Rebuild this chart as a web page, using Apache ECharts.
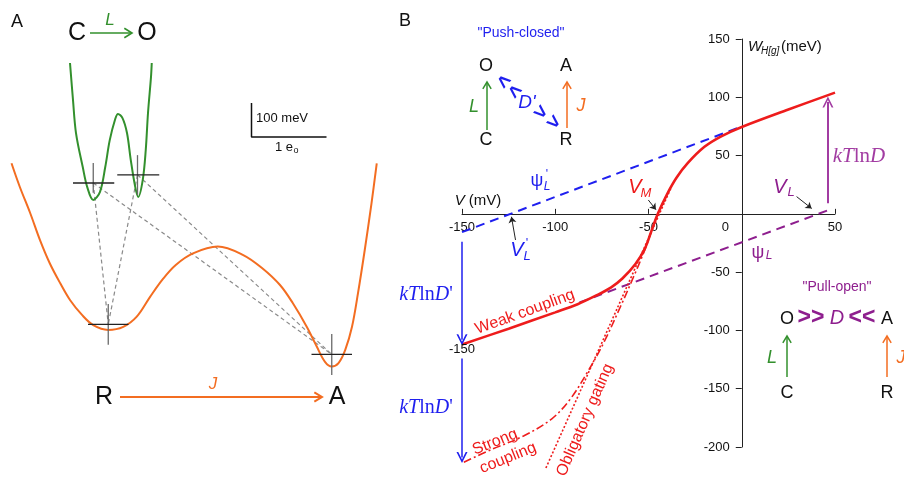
<!DOCTYPE html>
<html><head><meta charset="utf-8">
<script src="https://cdn.jsdelivr.net/npm/echarts@6/dist/echarts.min.js"></script>
<style>html,body{margin:0;padding:0;background:#fff}#c{width:904px;height:480px}</style>
</head><body><div id="c"></div>
<script>
// ---------- Panel B : axes ----------
const vTicks = [-150, -100, -50, 0, 50];                   // V (mV)
const wTicks = [-200, -150, -100, -50, 0, 50, 100, 150];   // W_H[g] (meV)

// ---------- Panel B : curves [V (mV), W (meV)] ----------
const weakCoupling = [[-150,-112],[-125,-98.5],[-100,-84.5],[-88,-77.5],[-78,-70],[-70,-63],[-64,-55.5],[-57,-43],[-52,-30],[-48.5,-15],[-45,0],[-40,17],[-35,31],[-29,43.5],[-20,57.5],[-11,66.5],[0,74.5],[25,89.5],[50,104]];
const strongCoupling = [[-149,-213],[-134,-202],[-117,-190.5],[-102,-176],[-92,-159],[-83,-136.5],[-74,-110.5],[-65,-79.5],[-58,-54],[-52,-31],[-45,0],[-40,17]];
const obligatoryGating = [[-105,-218],[-38,22]];
const psiLPrime = [[-150,-15.7],[0,75]];
const psiL = [[-87,-76],[47,3.5]];

// ---------- Panel B : arrows [from, to] ----------
const kTlnDArrow = [[[46.2,9],[46.2,96]]];
const kTlnDPrimeArrows = [[[-150,-24],[-150,-108]],[[-150,-124],[-150,-209]]];
const pointerArrows = [[[-50.1,11.9],[-46,3.6]],[[-121.3,-22.4],[-123.5,-2.5]],[[29.4,14.8],[37.5,4.6]]];

// ---------- Panel A : energy landscapes [charge (e0), energy (meV)] ----------
const greenWell = [[0.80,1103],[0.84,994],[0.88,897],[0.97,797],[1.03,738],[1.11,700],[1.20,724],[1.27,797],[1.33,876],[1.40,936],[1.44,953],[1.50,941],[1.56,897],[1.61,818],[1.67,738],[1.71,709],[1.77,759],[1.81,847],[1.84,956],[1.88,1062],[1.89,1103]];
const orangeWell = [[0.02,808],[0.13,739],[0.27,661],[0.40,582],[0.53,514],[0.67,455],[0.80,406],[0.96,362],[1.11,332],[1.31,318],[1.51,327],[1.69,357],[1.87,416],[2.04,468],[2.21,509],[2.44,543],[2.77,563],[3.11,538],[3.36,500],[3.60,450],[3.77,397],[3.96,326],[4.09,269],[4.20,224],[4.29,210],[4.38,220],[4.47,259],[4.56,327],[4.64,426],[4.73,553],[4.82,690],[4.89,808]];
const crossH = [[[0.84,750],[1.39,750]],[[1.43,774],[1.99,774]],[[1.04,334],[1.58,334]],[[4.02,246],[4.56,246]]];
const crossV = [[[1.11,809],[1.11,721]],[[1.70,832],[1.70,715]],[[1.31,394],[1.31,274]],[[4.29,306],[4.29,185]]];
const greenStates = [[1.11,750],[1.70,774]];
const orangeStates = [[1.31,334],[4.29,246]];
const scaleBar = [[3.22,985],[3.22,885],[4.22,885]]; // 100 meV, 1 e0

const GREEN='#33902d', ORANGE='#f36d21', RED='#ee1c1c', BLUE='#1f1fef', PURPLE='#8e1e8e', PURPLE2='#a23ca2';
const SANS='Liberation Sans', SERIF='Liberation Serif';
const ARROW_OPEN='path://M0,10 L5,0 L10,10 L8.4,10 L5,3.2 L1.6,10 Z';
const GB = {left:462, top:39, width:373, height:408};

function ln(data, grid, color, width, type, z, smooth){
  return {type:'line', xAxisIndex:grid, yAxisIndex:grid, data:data, symbol:'none', showSymbol:false,
    smooth: smooth||false, clip:false, silent:true, animation:false, z:z||2,
    lineStyle:{color:color, width:width, type:type||'solid', cap:'butt'}};
}
function arrows(list, grid, color, width, sym, size){
  return {type:'lines', coordinateSystem:'cartesian2d', xAxisIndex:grid, yAxisIndex:grid, polyline:false,
    data:list.map(a=>({coords:a})), symbol:['none', sym], symbolSize:[1, size], silent:true, animation:false, clip:false, z:5,
    lineStyle:{color:color, width:width, opacity:1, curveness:0}};
}
function T(x,y,text,size,color,o){
  o=o||{};
  return {type:'text', x:x, y:y, rotation:o.rot||0, silent:true, z:100,
    style:{text:text, fill:color||'#111', fontSize:size, fontFamily:o.family||SANS,
      fontStyle:o.italic?'italic':'normal', fontWeight:o.bold?'bold':'normal',
      align:o.align||'center', verticalAlign:o.va||'middle', rich:o.rich}};
}
function gArrow(x1,y1,x2,y2,color,w,h){
  const a=Math.atan2(y2-y1,x2-x1), s=0.55;
  const p1=[x2-h*Math.cos(a-s), y2-h*Math.sin(a-s)], p2=[x2-h*Math.cos(a+s), y2-h*Math.sin(a+s)];
  return [
    {type:'line', silent:true, z:100, shape:{x1:x1,y1:y1,x2:x2,y2:y2}, style:{stroke:color, lineWidth:w}},
    {type:'polyline', silent:true, z:100, shape:{points:[p1,[x2,y2],p2]}, style:{stroke:color, lineWidth:w, fill:null}}
  ];
}
function kt(color,size,prime){
  const base={fontFamily:SERIF, fontSize:size, fill:color, color:color};
  return {text:'{i|kT}{r|ln}{i|D}'+(prime?"{r|'}":''), rich:{i:Object.assign({fontStyle:'italic'},base), r:Object.assign({fontStyle:'normal'},base)}};
}

const series = [];
// Panel A
greenStates.forEach(g=>orangeStates.forEach(o=>series.push(ln([g,o],0,'#8a8a8a',1.2,[4,3],1))));
series.push(ln(orangeWell,0,ORANGE,2,'solid',2,0.35));
series.push(ln(greenWell,0,GREEN,2,'solid',2,0.35));
crossV.forEach(s=>series.push(ln(s,0,'#6a6a6a',1.3,'solid',3)));
crossH.forEach(s=>series.push(ln(s,0,'#222',1.3,'solid',3)));
series.push(ln(scaleBar,0,'#111',1.5,'solid',3));
// Panel B
series.push(ln(psiL,1,PURPLE,2,[9,6],2));
series.push(ln(psiLPrime,1,BLUE,2,[9,6],2));
series.push(ln(obligatoryGating,1,RED,1.6,[2,2],3));
series.push(ln(strongCoupling,1,RED,1.6,[8,3,2,3],3,0.35));
series.push(ln(weakCoupling,1,RED,2.6,'solid',4,0.35));
series.push(arrows(kTlnDArrow,1,PURPLE2,2,ARROW_OPEN,11));
series.push(arrows(kTlnDPrimeArrows,1,BLUE,1.5,ARROW_OPEN,11));
series.push(arrows(pointerArrows,1,'#222',1,'arrow',6));

const g = [];
// Panel A annotations
g.push(T(17,22,'A',18));
g.push(T(77,33,'C',25)); g.push(T(147,33,'O',25));
g.push(T(110,20,'L',17,GREEN,{italic:true}));
g.push(...gArrow(90,33,132,33,GREEN,1.6,9));
g.push(T(104,397,'R',25)); g.push(T(337,397,'A',25));
g.push(T(213,384,'J',17,ORANGE,{italic:true}));
g.push(...gArrow(120,397,322,397,ORANGE,2,9));
g.push(T(256,118,'100 meV',13,'#111',{align:'left'}));
g.push(T(284,147,'1 e',13)); g.push(T(296,151,'o',9));
// Panel B annotations
g.push(T(405,21,'B',18));
g.push(T(521,33,'"Push-closed"',14,BLUE));
g.push(T(486,66,'O',18)); g.push(T(566,66,'A',18)); g.push(T(486,140,'C',18)); g.push(T(566,140,'R',18));
g.push(T(474,107,'L',18,GREEN,{italic:true})); g.push(T(581,106,'J',18,ORANGE,{italic:true}));
g.push(...gArrow(487,130,487,82,GREEN,1.5,8)); g.push(...gArrow(567,128,567,82,ORANGE,1.5,8));
g.push(T(503,82,'<',21,BLUE,{bold:true,rot:-0.72})); g.push(T(514,92,'<',21,BLUE,{bold:true,rot:-0.72}));
g.push(T(527,103,"D'",19,BLUE,{italic:true}));
g.push(T(540,113,'>',21,BLUE,{bold:true,rot:-0.72})); g.push(T(553,123,'>',21,BLUE,{bold:true,rot:-0.72}));
(function(){const r={i:{fontStyle:'italic',fontSize:15,fontFamily:SANS,fill:'#111',color:'#111'},n:{fontSize:15,fontFamily:SANS,fill:'#111',color:'#111'}};
  const e=T(478,201,'',15,'#111',{rich:r}); e.style.text='{i|V}{n| (mV)}'; g.push(e);})();
g.push(T(748,47,'W',15,'#111',{italic:true,align:'left'}));
g.push(T(761,51,'H[g]',10,'#111',{italic:true,align:'left'}));
g.push(T(781,47,'(meV)',15,'#111',{align:'left'}));
g.push(T(537,181,'ψ',18,BLUE)); g.push(T(547,175,"'",12,BLUE)); g.push(T(547,187,'L',12,BLUE,{italic:true}));
g.push(T(635,187,'V',20,RED,{italic:true})); g.push(T(646,193,'M',13,RED,{italic:true}));
g.push(T(517,250,'V',20,BLUE,{italic:true})); g.push(T(527,243,"'",13,BLUE)); g.push(T(527,256,'L',13,BLUE,{italic:true}));
g.push(T(780,187,'V',20,PURPLE,{italic:true})); g.push(T(791,192,'L',13,PURPLE,{italic:true}));
g.push(T(758,253,'ψ',18,PURPLE)); g.push(T(769,256,'L',12,PURPLE,{italic:true}));
(function(){const k=kt(PURPLE2,21,false); const e=T(859,156,'',21,PURPLE2,{family:SERIF,rich:k.rich}); e.style.text=k.text; g.push(e);})();
[295,408].forEach(y=>{const k=kt(BLUE,20,true); const e=T(426,y,'',20,BLUE,{family:SERIF,rich:k.rich}); e.style.text=k.text; g.push(e);});
g.push(T(462,349,'-150',13));
g.push(T(525,312,'Weak coupling',16,RED,{rot:0.35}));
g.push(T(495,442,'Strong',16,RED,{rot:0.38}));
g.push(T(508,458,'coupling',16,RED,{rot:0.38}));
g.push(T(585,420,'Obligatory gating',16,RED,{rot:1.16}));
g.push(T(837,287,'"Pull-open"',14,PURPLE));
g.push(T(787,319,'O',18)); g.push(T(811,318,'>>',23,PURPLE,{bold:true}));
g.push(T(837,318,'D',20,PURPLE,{italic:true})); g.push(T(862,318,'<<',23,PURPLE,{bold:true}));
g.push(T(887,319,'A',18));
g.push(T(772,358,'L',18,GREEN,{italic:true})); g.push(T(901,358,'J',18,ORANGE,{italic:true}));
g.push(T(787,393,'C',18)); g.push(T(887,393,'R',18));
g.push(...gArrow(787,377,787,336,GREEN,1.5,8)); g.push(...gArrow(887,377,887,336,ORANGE,1.5,8));

// axes cross at the origin: shift each axis from the grid edge to the other's zero
const vMin=vTicks[0], vMax=vTicks[vTicks.length-1], wMin=wTicks[0], wMax=wTicks[wTicks.length-1];
const xOffset = -(0 - wMin)/(wMax - wMin)*GB.height;
const yOffset = -(0 - vMin)/(vMax - vMin)*GB.width;

const chart = echarts.init(document.getElementById('c'), null, {renderer:'canvas'});
chart.setOption({
  animation:false,
  backgroundColor:'#fff',
  grid:[
    {left:10, top:30, width:375, height:408},
    GB
  ],
  xAxis:[
    {gridIndex:0, type:'value', min:0, max:5, show:false},
    {gridIndex:1, type:'value', min:vMin, max:vMax, interval:50, position:'bottom', offset:xOffset,
      axisLine:{onZero:false, lineStyle:{color:'#222', width:1}},
      axisTick:{inside:true, length:5, lineStyle:{color:'#222'}},
      splitLine:{show:false},
      axisLabel:{color:'#111', fontSize:13, fontFamily:SANS, margin:7,
        formatter:v=> v===0 ? '{z|0}' : String(v),
        rich:{z:{fontSize:13, fontFamily:SANS, color:'#111', padding:[0,33,0,0]}}}}
  ],
  yAxis:[
    {gridIndex:0, type:'value', min:0, max:1200, show:false},
    {gridIndex:1, type:'value', min:wMin, max:wMax, interval:50, position:'left', offset:yOffset,
      axisLine:{onZero:false, lineStyle:{color:'#222', width:1}},
      axisTick:{length:6, lineStyle:{color:'#222'}},
      splitLine:{show:false},
      axisLabel:{color:'#111', fontSize:13, fontFamily:SANS, margin:12, formatter:v=> v===0 ? '' : String(v)}}
  ],
  series:series,
  graphic:g
});
</script></body></html>
